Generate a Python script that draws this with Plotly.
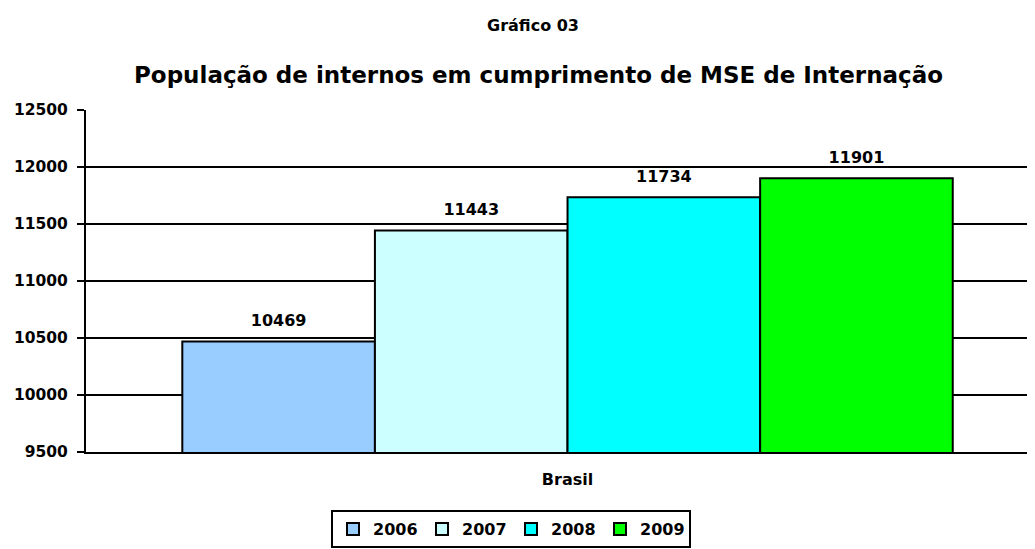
import plotly.graph_objects as go

categories = ["Brasil"]
years = ["2006", "2007", "2008", "2009"]
values = [10469, 11443, 11734, 11901]
colors = ["#99CCFF", "#CCFFFF", "#00FFFF", "#00FF00"]
y_ticks = [9500, 10000, 10500, 11000, 11500, 12000, 12500]

FONT = "DejaVu Sans, Verdana, sans-serif"

# the page body adds an 8px offset; layout is designed in screen pixels
OFF = 8
W, H = 1035, 549
L = 86 - OFF
R = OFF
T = 110 - OFF
B = H - (452 - OFF)
PW, PH = W - L - R, H - T - B


def px_x(x):
    return (x - OFF - L) / PW


def px_y(y):
    return (H - B - (y - OFF)) / PH


fig = go.Figure()
for yr, v, c in zip(years, values, colors):
    fig.add_trace(go.Bar(
        name=yr, x=categories, y=[v],
        marker=dict(color=c, line=dict(color="black", width=2)),
        texttemplate="<span style='font-size:16px'><b>%{y:d}</b></span><br> ",
        textposition="outside",
        textfont=dict(family=FONT, size=8, color="black"),
        cliponaxis=False,
    ))

fig.update_layout(
    width=W, height=H,
    margin=dict(l=L, r=R, t=T, b=B),
    paper_bgcolor="white", plot_bgcolor="white",
    barmode="group", bargap=0.2, bargroupgap=0,
    font=dict(family=FONT, color="black"),
    showlegend=True,
    legend=dict(
        orientation="h", xref="container", x=(511 - OFF) / W, xanchor="center",
        yref="container", y=1 - (510 - OFF) / H, yanchor="top",
        bordercolor="black", borderwidth=2,
        font=dict(family=FONT, size=16, color="black", weight="bold"),
        itemwidth=30, tracegroupgap=0, entrywidth=44,
    ),
    xaxis=dict(
        range=[-0.5, 0.4854], showgrid=False, automargin=False,
        showline=True, linecolor="black", linewidth=2,
        tickfont=dict(family=FONT, size=16, color="black", weight="bold"),
        ticks="", ticklabelstandoff=12,
    ),
    yaxis=dict(
        range=[9500, 12500], tickvals=y_ticks, tickformat="d", automargin=False,
        showgrid=True, gridcolor="black", gridwidth=2,
        showline=True, linecolor="black", linewidth=2,
        ticks="outside", ticklen=7, tickwidth=2, tickcolor="black",
        tickfont=dict(family=FONT, size=15.5, color="black", weight="bold"),
        ticklabelstandoff=6,
        zeroline=False,
    ),
    annotations=[
        dict(text="<b>Gráfico 03</b>", xref="paper", yref="paper",
             x=px_x(533), y=px_y(26), yanchor="middle", showarrow=False,
             font=dict(family=FONT, size=16, color="black")),
        dict(text="<b>População de internos em cumprimento de MSE de Internação</b>",
             xref="paper", yref="paper",
             x=px_x(538), y=px_y(75), yanchor="middle", showarrow=False,
             font=dict(family=FONT, size=23, color="black")),
    ],
)

fig.write_html("out.html")
